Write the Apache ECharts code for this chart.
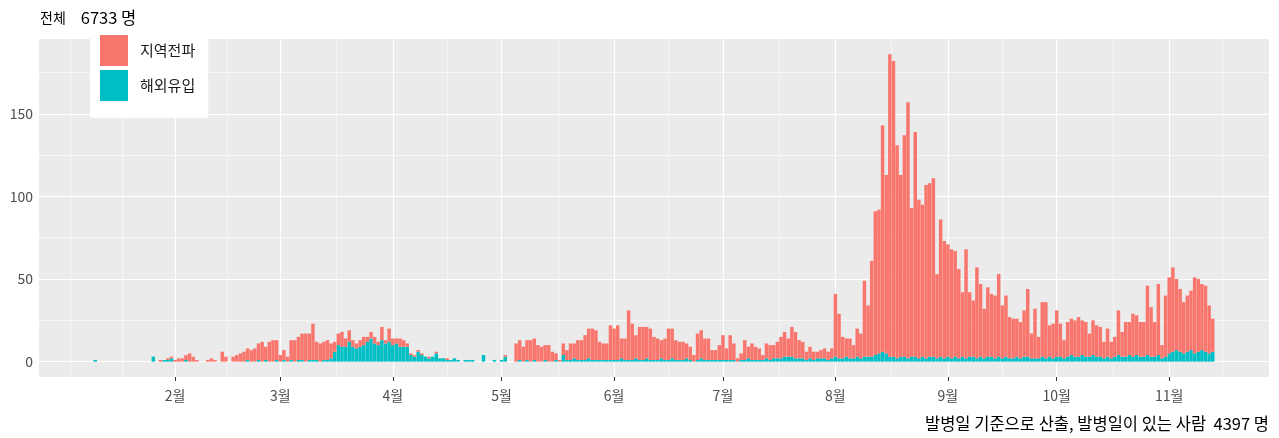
<!DOCTYPE html>
<html><head><meta charset="utf-8">
<script src="https://cdn.jsdelivr.net/npm/echarts@6/dist/echarts.min.js"></script>
<style>html,body{margin:0;padding:0;background:#fff}#c{width:1279px;height:438px}</style>
</head><body><div id="c"></div>
<script>
// ---- data (daily counts by onset date, starting 2020-01-10) ----
const startDate = '2020-01-10';
const localJan = [0,0,0,0,0,0,0,0,0,0,0,0,0,0,0,0,0,0,1,0,1,1];
const overseasJan = [1,0,0,0,0,0,0,0,0,0,0,0,0,0,0,0,3,0,0,1,1,2];
const localFeb = [1,2,2,3,5,3,1,0,0,1,2,1,0,6,3,0,3,4,5,6,7,7,8,10,12,8,12,13,12];
const overseasFeb = [0,0,0,1,0,0,0,0,0,0,0,0,0,0,0,0,0,0,0,0,1,0,0,1,0,1,0,0,1];
const localMar = [4,6,3,12,13,14,16,17,16,22,11,11,11,12,9,6,7,9,5,7,4,3,4,5,3,4,4,2,8,2,8];
const overseasMar = [0,1,0,1,0,1,1,0,1,1,1,0,1,1,2,6,10,9,9,12,9,8,9,10,12,14,11,10,13,11,12];
const localApr = [4,3,5,4,2,1,1,1,1,0,1,0,1,0,0,1,0,0,0,0,0,0,0,0,0,0,0,0,0,0];
const overseasApr = [10,11,9,9,9,4,3,6,4,3,2,3,5,2,2,1,1,2,1,0,1,1,1,0,0,4,0,0,1,0];
const localMay = [0,1,0,0,11,12,9,12,13,13,10,9,9,10,6,4,1,7,6,10,9,12,12,15,18,19,18,11,10,10,21];
const overseasMay = [1,3,0,0,0,1,0,1,0,1,0,0,1,0,0,1,0,4,1,1,2,1,1,1,2,1,1,1,1,1,1];
const localJun = [19,21,12,13,30,22,14,20,20,19,19,14,13,11,13,19,18,12,11,11,9,8,4,16,17,13,13,6,6,9];
const overseasJun = [1,1,2,1,1,1,2,1,1,2,1,1,1,2,1,1,2,1,1,1,2,1,0,1,2,1,1,1,1,1];
const localJul = [15,7,15,10,2,4,12,7,10,8,7,3,9,9,8,10,13,15,11,18,16,11,10,5,7,5,4,5,6,5,6];
const overseasJul = [1,1,1,1,0,1,1,2,1,1,1,1,2,1,2,2,2,3,3,3,2,2,2,1,2,1,2,2,2,1,2];
const localAug = [38,27,13,11,12,8,17,15,46,31,58,87,87,137,108,183,179,129,110,134,155,90,136,96,92,105,105,108,51,83,71];
const overseasAug = [3,2,2,3,2,2,3,2,3,3,3,4,5,6,5,3,3,2,3,3,2,3,3,2,3,2,3,3,2,3,2];
const localSep = [68,66,64,54,39,66,39,34,55,44,30,42,38,38,50,32,37,25,24,23,22,28,41,15,30,13,33,34,19,21];
const overseasSep = [3,2,3,2,3,2,3,3,2,3,2,3,3,2,3,2,3,2,2,3,2,3,3,2,2,2,3,2,3,2];
const localOct = [28,20,11,21,22,22,24,21,21,14,21,19,18,10,17,10,12,27,15,21,20,26,24,21,21,42,30,21,43,8,37];
const overseasOct = [3,3,2,3,4,3,3,4,3,3,4,3,3,2,3,2,3,4,3,3,4,3,4,3,3,4,3,3,4,2,3];
const localNov = [46,51,43,38,31,34,36,46,44,40,40,29,20];
const overseasNov = [5,6,7,6,5,6,7,5,6,7,6,5,6];

const seriesNames = ['지역전파', '해외유입'];
const monthTickDates = ['2020-02-01','2020-03-01','2020-04-01','2020-05-01','2020-06-01','2020-07-01','2020-08-01','2020-09-01','2020-10-01','2020-11-01'];
const monthTickLabels = ['2월','3월','4월','5월','6월','7월','8월','9월','10월','11월'];
const yTickValues = [0, 50, 100, 150];
const titleLabel = '전체';
const titleCount = '6733 명';
const captionText = '발병일 기준으로 산출, 발병일이 있는 사람  4397 명';

// ---- build ----
const DAY = 86400000;
function toUTC(s){ const p = s.split('-').map(Number); return Date.UTC(p[0], p[1]-1, p[2]); }
const t0 = toUTC(startDate);
function dayIndex(s){ return Math.round((toUTC(s) - t0) / DAY); }
function dateOf(i){ return new Date(t0 + i * DAY).toISOString().slice(0, 10); }

const local = [].concat(localJan, localFeb, localMar, localApr, localMay, localJun, localJul, localAug, localSep, localOct, localNov);
const overseas = [].concat(overseasJan, overseasFeb, overseasMar, overseasApr, overseasMay, overseasJun, overseasJul, overseasAug, overseasSep, overseasOct, overseasNov);
const nDays = local.length;
const totals = local.map((v, i) => v + overseas[i]);
const yDataMax = Math.max.apply(null, totals);

// ggplot-like 5% expansion of the date range, as whole padding days
const pad = Math.round(0.05 * (nDays - 1 + 0.9));
const firstIdx = -pad, lastIdx = nDays - 1 + pad;
const categories = [];
for (let i = firstIdx; i <= lastIdx; i++) categories.push(dateOf(i));
const padArr = new Array(pad).fill('-');
const localData = padArr.concat(local, padArr);
const overseasData = padArr.concat(overseas, padArr);

// continuous day axis that lines up with the category bands
const xMin = firstIdx - 0.5, xMax = lastIdx + 0.5;
const yMin = -0.05 * yDataMax, yMax = 1.05 * yDataMax;

const monthPos = monthTickDates.map(dayIndex);
const labelOf = {};
monthPos.forEach((p, i) => { labelOf[p] = monthTickLabels[i]; });

// ggplot-style minor breaks
const step = monthPos[1] - monthPos[0];
const ext = [monthPos[0] - step].concat(monthPos, [monthPos[monthPos.length - 1] + step]);
const minorX = [];
for (let i = 0; i < ext.length - 1; i++) { minorX.push(ext[i]); minorX.push((ext[i] + ext[i + 1]) / 2); }
minorX.push(ext[ext.length - 1]);
const minorXIn = minorX.filter(v => v > xMin && v < xMax);
const minorY = [25, 75, 125, 175].filter(v => v < yMax);

const gridLines = [];
minorXIn.forEach(v => gridLines.push({ xAxis: v, lineStyle: { width: 0.55 } }));
monthPos.forEach(v => gridLines.push({ xAxis: v, lineStyle: { width: 1.1 } }));
minorY.forEach(v => gridLines.push({ yAxis: v, lineStyle: { width: 0.55 } }));
yTickValues.forEach(v => gridLines.push({ yAxis: v, lineStyle: { width: 1.1 } }));

const FONT = '"Noto Sans CJK KR", "Noto Sans", sans-serif';
const chart = echarts.init(document.getElementById('c'), null, { renderer: 'canvas' });
chart.setOption({
  animation: false,
  backgroundColor: '#ffffff',
  title: [
    { text: '{a|' + titleLabel + '}   {b|' + titleCount + '}', left: 35, top: 4,
      textStyle: { fontWeight: 'normal', rich: {
        a: { fontFamily: FONT, fontSize: 14, fontWeight: 'normal', color: '#000' },
        b: { fontFamily: FONT, fontSize: 16.5, fontWeight: 'normal', color: '#000' } } } },
    { text: captionText, right: 5, bottom: 1, textStyle: { fontFamily: FONT, fontSize: 16.5, fontWeight: 'normal', color: '#000' } }
  ],
  legend: {
    data: seriesNames,
    orient: 'vertical',
    left: 90, top: 28, z: 10,
    backgroundColor: '#ffffff',
    padding: [7, 13, 17, 10],
    itemWidth: 28, itemHeight: 31, itemGap: 4,
    icon: 'rect',
    textStyle: { fontFamily: FONT, fontSize: 15, color: '#1A1A1A', padding: [0, 0, 0, 7] }
  },
  grid: { left: 39, right: 10, top: 39, bottom: 61, show: true, backgroundColor: '#EBEBEB', borderWidth: 0, containLabel: false },
  xAxis: [
    {
      type: 'category', data: categories, boundaryGap: true, show: false
    },
    {
      type: 'value', min: xMin, max: xMax, position: 'bottom',
      axisLine: { show: false },
      splitLine: { show: false },
      axisTick: { show: true, customValues: monthPos, length: 4, lineStyle: { color: '#333333', width: 1 } },
      axisLabel: { customValues: monthPos, formatter: v => labelOf[v] || '', fontFamily: FONT, fontSize: 14, color: '#4D4D4D', margin: 12 }
    }
  ],
  yAxis: {
    type: 'value', min: yMin, max: yMax,
    axisLine: { show: false },
    splitLine: { show: false },
    axisTick: { show: true, customValues: yTickValues, length: 4, lineStyle: { color: '#333333', width: 1 } },
    axisLabel: { customValues: yTickValues, fontFamily: FONT, fontSize: 14, color: '#4D4D4D', margin: 6 }
  },
  series: [
    {
      name: 'grid', type: 'line', xAxisIndex: 1, data: [], z: 1, silent: true,
      markLine: { z: 1, silent: true, symbol: ['none', 'none'], label: { show: false }, animation: false,
        lineStyle: { color: '#ffffff', type: 'solid', width: 0.55 }, data: gridLines }
    },
    {
      name: seriesNames[1], type: 'bar', xAxisIndex: 0, stack: 'onset', z: 3, barWidth: '96%',
      itemStyle: { color: '#00BFC4' },
      data: overseasData
    },
    {
      name: seriesNames[0], type: 'bar', xAxisIndex: 0, stack: 'onset', z: 3, barWidth: '96%',
      itemStyle: { color: '#F8766D' },
      data: localData
    }
  ]
});
</script>
</body></html>
